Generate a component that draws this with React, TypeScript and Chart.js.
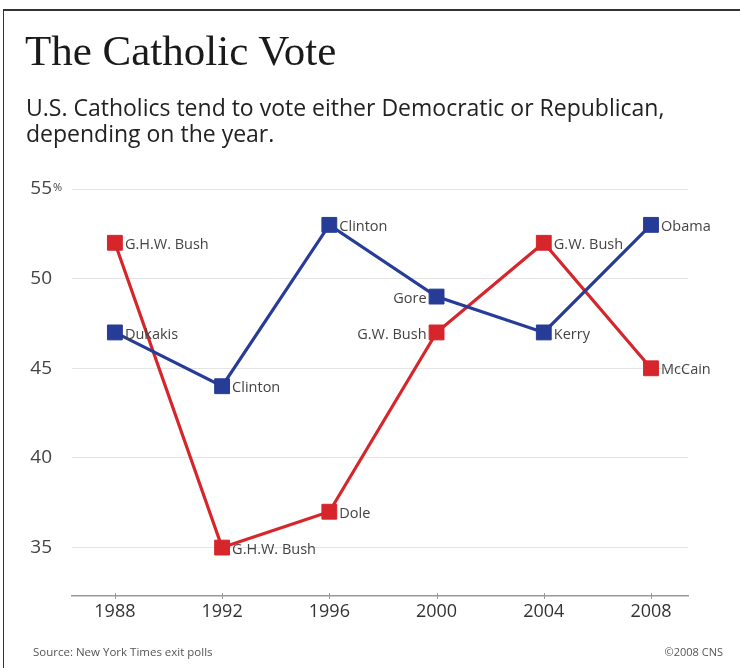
import React, { useEffect, useRef } from 'react';
import { Chart, registerables } from 'chart.js';

Chart.register(...registerables);

const years = [1988, 1992, 1996, 2000, 2004, 2008];
const demValues = [47, 44, 53, 49, 47, 53];
const repValues = [52, 35, 37, 47, 52, 45];
const demNames = ['Dukakis', 'Clinton', 'Clinton', 'Gore', 'Kerry', 'Obama'];
const repNames = ['G.H.W. Bush', 'G.H.W. Bush', 'Dole', 'G.W. Bush', 'G.W. Bush', 'McCain'];
const yTickValues = [35, 40, 45, 50, 55];

const demSides = ['right', 'right', 'right', 'left', 'right', 'right'];
const repSides = ['right', 'right', 'right', 'left', 'right', 'right'];

const BLUE = '#263c96';
const RED = '#d6262b';
const SANS = '"Open Sans", "Noto Sans", sans-serif';

const labelPlugin = {
  id: 'pointNameLabels',
  afterDatasetsDraw(chart: any) {
    const ctx = chart.ctx;
    ctx.save();
    ctx.font = `14.5px ${SANS}`;
    ctx.fillStyle = '#444';
    ctx.textBaseline = 'middle';
    const sets = [
      { names: demNames, sides: demSides },
      { names: repNames, sides: repSides },
    ];
    sets.forEach((s, di) => {
      const meta = chart.getDatasetMeta(di);
      meta.data.forEach((pt: any, i: number) => {
        const left = s.sides[i] === 'left';
        ctx.textAlign = left ? 'right' : 'left';
        ctx.fillText(s.names[i], left ? pt.x - 10 : pt.x + 10, pt.y + 2);
      });
    });
    ctx.restore();
  },
  afterDraw(chart: any) {
    const ctx = chart.ctx;
    const xs = chart.scales.x;
    const ys = chart.scales.y;
    ctx.save();
    ctx.strokeStyle = '#999';
    ctx.lineWidth = 1;
    years.forEach((yr) => {
      const px = Math.round(xs.getPixelForValue(yr)) + 0.5;
      ctx.beginPath();
      ctx.moveTo(px, xs.top - 3);
      ctx.lineTo(px, xs.top + 3);
      ctx.stroke();
    });
    ctx.font = `11px ${SANS}`;
    ctx.fillStyle = '#444';
    ctx.textAlign = 'left';
    ctx.textBaseline = 'alphabetic';
    ctx.fillText('%', 53, ys.getPixelForValue(55) + 2);
    ctx.restore();
  },
};

export default function App() {
  const canvasRef = useRef<HTMLCanvasElement | null>(null);

  useEffect(() => {
    if (!canvasRef.current) return;
    const chart = new Chart(canvasRef.current, {
      type: 'line',
      data: {
        datasets: [
          {
            label: 'Democratic',
            data: years.map((y, i) => ({ x: y, y: demValues[i] })),
            borderColor: BLUE,
            backgroundColor: BLUE,
            pointBackgroundColor: BLUE,
            pointBorderColor: BLUE,
          },
          {
            label: 'Republican',
            data: years.map((y, i) => ({ x: y, y: repValues[i] })),
            borderColor: RED,
            backgroundColor: RED,
            pointBackgroundColor: RED,
            pointBorderColor: RED,
          },
        ],
      },
      options: {
        animation: false,
        responsive: true,
        maintainAspectRatio: false,
        layout: { padding: { top: 189, left: 0, right: 52, bottom: 0 } },
        elements: {
          line: { borderWidth: 3.2, tension: 0 },
          point: { pointStyle: 'rect', radius: 10.5, borderWidth: 1, hoverRadius: 10.5 },
        },
        plugins: {
          legend: { display: false },
          tooltip: { enabled: false },
          title: { display: false },
        },
        scales: {
          x: {
            type: 'linear',
            min: 1986.4,
            max: 2009.38,
            afterBuildTicks: (scale: any) => {
              scale.ticks = years.map((v) => ({ value: v }));
            },
            afterFit: (scale: any) => {
              scale.height = 72;
            },
            grid: { display: false, drawTicks: false },
            border: { display: true, color: '#9a9a9a', width: 1.5 },
            ticks: {
              callback: (v: any) => String(v),
              font: { family: SANS, size: 18 },
              color: '#333',
              padding: 5,
              maxRotation: 0,
              autoSkip: false,
            },
          },
          y: {
            type: 'linear',
            min: 32.3,
            max: 55,
            afterBuildTicks: (scale: any) => {
              scale.ticks = yTickValues.map((v) => ({ value: v }));
            },
            afterFit: (scale: any) => {
              scale.width = 72;
            },
            grid: { color: '#e4e4e4', lineWidth: 1, drawTicks: false },
            border: { display: false },
            ticks: {
              callback: (v: any) => String(v),
              font: { family: SANS, size: 19 },
              color: '#444',
              padding: 20,
              autoSkip: false,
            },
          },
        },
      },
      plugins: [labelPlugin],
    } as any);
    return () => chart.destroy();
  }, []);

  return (
    <div
      style={{
        position: 'absolute',
        left: 0,
        top: 0,
        width: 740,
        height: 668,
        overflow: 'hidden',
        background: '#fff',
      }}
    >
      <div
        style={{
          position: 'absolute',
          left: 3,
          top: 9,
          width: 760,
          height: 700,
          borderTop: '2px solid #333',
          borderLeft: '1.5px solid #333',
        }}
      />
      <div style={{ position: 'absolute', left: 0, top: 0, width: 740, height: 668 }}>
        <canvas ref={canvasRef} />
      </div>
      <div
        style={{
          position: 'absolute',
          left: 25,
          top: 29,
          fontFamily: '"Liberation Serif", "DejaVu Serif", serif',
          fontSize: 43,
          lineHeight: '43px',
          color: '#1a1a1a',
          whiteSpace: 'nowrap',
        }}
      >
        The Catholic Vote
      </div>
      <div
        style={{
          position: 'absolute',
          left: 26,
          top: 94,
          fontFamily: SANS,
          fontSize: 23,
          lineHeight: '26px',
          color: '#222',
          whiteSpace: 'nowrap',
        }}
      >
        U.S. Catholics tend to vote either Democratic or Republican,
        <br />
        depending on the year.
      </div>
      <div
        style={{
          position: 'absolute',
          left: 33,
          top: 644,
          fontFamily: SANS,
          fontSize: 11.5,
          lineHeight: '15px',
          color: '#555',
          whiteSpace: 'nowrap',
        }}
      >
        Source: New York Times exit polls
      </div>
      <div
        style={{
          position: 'absolute',
          right: 17,
          top: 644,
          fontFamily: SANS,
          fontSize: 11,
          lineHeight: '15px',
          color: '#555',
          whiteSpace: 'nowrap',
        }}
      >
        ©2008 CNS
      </div>
    </div>
  );
}
